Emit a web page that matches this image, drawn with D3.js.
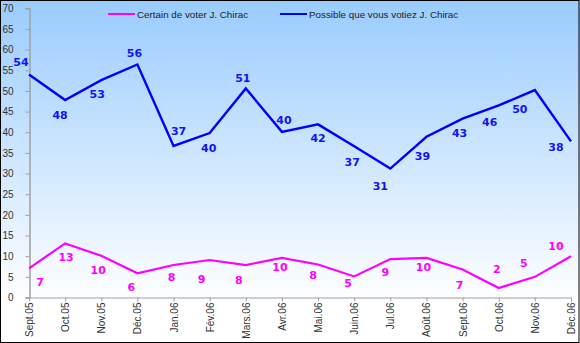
<!DOCTYPE html>
<html><head><meta charset="utf-8">
<script src="https://cdn.jsdelivr.net/npm/d3@7"></script>
<style>body{margin:0;background:#fff}svg{display:block}</style>
</head><body>
<svg id="c" width="580" height="343"></svg>
<script>
const categories = ["Sept.05","Oct.05","Nov.05","Déc.05","Jan.06","Fév.06","Mars.06","Avr.06","Mai.06","Juin.06","Jul.06","Août.06","Sept.06","Oct.06","Nov.06","Déc.06"];
const seriesNames = ["Certain de voter J. Chirac","Possible que vous votiez J. Chirac"];
const certainValues = [7.05,13.1,10.1,5.85,7.86,9.07,7.86,9.6,8.0,5.1,9.3,9.6,6.8,2.3,5.0,10.0];
const certainLabels = [7,13,10,6,8,9,8,10,8,5,9,10,7,2,5,10];
const possibleValues = [54.0,47.8,52.6,56.4,36.7,39.8,50.6,40.1,41.9,36.6,31.2,38.9,43.3,46.5,50.2,37.8];
const possibleLabels = [54,48,53,56,37,40,51,40,42,37,31,39,43,46,50,38];
const yTicks = [0,5,10,15,20,25,30,35,40,45,50,55,60,65,70];
// label nudges (px) relative to each point
const certainOffsets = [[11,14],[1,14],[-3,15],[-6,14],[-2,12],[-8,19],[-7,15],[-2,10],[-5,11],[-6,7],[-5,13],[-3,10],[-3,16],[-2,-18],[-11,-13],[-15,-10]];
const possibleOffsets = [[-8,-12],[-5,15],[-4,14],[-3,-11],[5,-14],[-1,15],[-3,-10],[2,-11],[0,14],[-2,16],[-10,18],[-4,20],[-3,15],[-9,17],[-15,19],[-15,6]];

const svg = d3.select("#c");
const W = 580, H = 343;
const defs = svg.append("defs");
const g = defs.append("linearGradient").attr("id","bg").attr("x1",0).attr("y1",0).attr("x2",0).attr("y2",1);
g.append("stop").attr("offset","0%").attr("stop-color","#99CCFF");
g.append("stop").attr("offset","88%").attr("stop-color","#FFFFFF");
g.append("stop").attr("offset","100%").attr("stop-color","#FFFFFF");
svg.append("rect").attr("x",0).attr("y",0).attr("width",W).attr("height",H).attr("fill","url(#bg)");
svg.append("rect").attr("x",0.5).attr("y",0.5).attr("width",W-1.5).attr("height",H-1).attr("fill","none").attr("stroke","#000").attr("stroke-width",1);

const x = d3.scalePoint().domain(categories).range([29,571]);
const y = d3.scaleLinear().domain([0,70]).range([297.5,8.3]);

// y axis
const ya = svg.append("g").attr("transform","translate(29.5,0)")
  .call(d3.axisLeft(y).tickValues(yTicks).tickSize(4).tickPadding(12));
ya.select(".domain").attr("stroke","#a0a0a0").attr("stroke-width",1.5);
ya.selectAll(".tick line").attr("stroke","#a0a0a0");
ya.selectAll("text").attr("font-family","Liberation Sans, Arial, sans-serif").attr("font-size","10px").attr("fill","#333");

// x axis
const xa = svg.append("g").attr("transform","translate(0,297.5)")
  .call(d3.axisBottom(x).tickSize(4).tickSizeOuter(0));
xa.select(".domain").attr("stroke","#a0a0a0").attr("stroke-width",1);
xa.selectAll(".tick line").attr("stroke","#a0a0a0");
xa.selectAll("text").attr("font-family","Liberation Sans, Arial, sans-serif").attr("font-size","10px").attr("fill","#333")
  .attr("transform","rotate(-90)").attr("text-anchor","end").attr("x",-5).attr("y",0).attr("dy","0.35em");

const line = d3.line().x((d,i)=>x(categories[i])).y(d=>y(d));
svg.append("path").datum(certainValues).attr("d",line).attr("fill","none").attr("stroke","#FF00FF").attr("stroke-width",2.2).attr("stroke-linejoin","miter");
svg.append("path").datum(possibleValues).attr("d",line).attr("fill","none").attr("stroke","#0000FF").attr("stroke-width",2.4).attr("stroke-linejoin","miter");

function labels(vals, labs, offs, color){
  svg.append("g").selectAll("text").data(vals).join("text")
    .attr("x",(d,i)=>x(categories[i])+offs[i][0])
    .attr("y",(d,i)=>y(d)+offs[i][1])
    .attr("text-anchor","middle").attr("dominant-baseline","central")
    .attr("font-family","DejaVu Sans, Verdana, sans-serif").attr("font-weight","bold").attr("font-size","11px")
    .attr("fill",color).text((d,i)=>labs[i]);
}
labels(certainValues, certainLabels, certainOffsets, "#FF00FF");
labels(possibleValues, possibleLabels, possibleOffsets, "#1414F0");

// legend
const legendX = [108,280];
const colors = ["#FF00FF","#0000FF"];
const lg = svg.append("g");
seriesNames.forEach((n,i)=>{
  lg.append("line").attr("x1",legendX[i]).attr("x2",legendX[i]+27).attr("y1",14).attr("y2",14).attr("stroke",colors[i]).attr("stroke-width",2);
  lg.append("text").attr("x",legendX[i]+29).attr("y",14).attr("dominant-baseline","central")
    .attr("font-family","Liberation Sans, Arial, sans-serif").attr("font-size","9.8px").attr("fill","#222").text(n);
});
</script>
</body></html>
